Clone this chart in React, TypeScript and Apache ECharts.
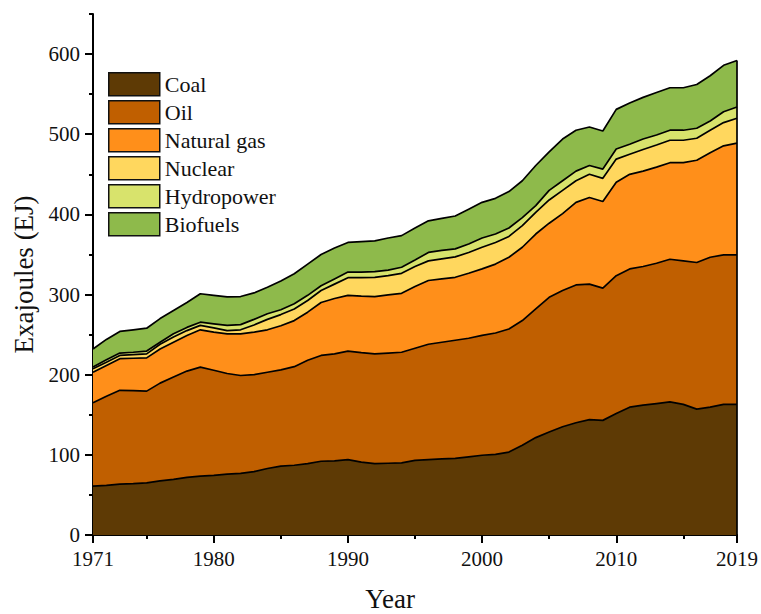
import React, { useEffect, useRef } from "react";
import * as echarts from "echarts";

const years = [
  "1971", "1972", "1973", "1974", "1975", "1976", "1977", "1978", "1979", "1980",
  "1981", "1982", "1983", "1984", "1985", "1986", "1987", "1988", "1989", "1990",
  "1991", "1992", "1993", "1994", "1995", "1996", "1997", "1998", "1999", "2000",
  "2001", "2002", "2003", "2004", "2005", "2006", "2007", "2008", "2009", "2010",
  "2011", "2012", "2013", "2014", "2015", "2016", "2017", "2018", "2019",
];

const coal = [
  61, 62, 63.5, 64, 65, 67.5, 69.5, 72, 73.5, 74.5,
  76, 77, 79, 83, 86, 87, 89, 92, 92.5, 94,
  91, 89, 89.5, 90, 93, 94, 95, 95.5, 97.5, 99.5,
  100.5, 103.5, 112, 121.5, 128.5, 135, 140, 144, 143, 151.5,
  159.5, 162, 164, 166, 163, 157, 159.5, 163, 163,
];
const oil = [
  104, 111, 117, 116, 114.5, 122, 127.5, 132.5, 136, 131,
  125.5, 122, 121, 120, 120, 123, 129, 132, 133.5, 135.5,
  136.5, 137, 137.5, 138, 140, 144, 145.5, 147.5, 148, 149.5,
  151.5, 153.5, 155.5, 160.5, 168, 170, 172, 169, 165, 172,
  172.5, 173, 175, 178, 179, 183, 187, 186.5, 186.5,
];
const naturalGas = [
  38, 38.5, 39.5, 40.5, 41.5, 42.5, 43.5, 44.5, 46.5, 47.5,
  49.5, 52, 53, 53, 55, 57.5, 60, 66, 69, 69.5,
  70.5, 71.5, 72.5, 73.5, 77, 79.5, 79, 78.5, 81, 83,
  86, 89.5, 91.5, 93.5, 92.5, 96, 103, 108, 108, 116.5,
  118, 119, 120, 120.5, 122.5, 127.5, 130.5, 136, 139.5,
];
const nuclear = [
  4.5, 4, 4, 4.5, 5, 6, 6.5, 6, 5.5, 5.5,
  4, 5, 9, 13, 14, 14.5, 14.5, 15, 18, 22,
  23, 24, 24, 25, 25, 24.5, 25, 25.5, 26, 27,
  27, 26, 27, 27, 29, 29, 27, 29, 29, 29,
  25, 27, 27.5, 28, 28, 27.5, 28, 29, 31,
];
const hydropower = [
  2, 3, 3, 3, 3.5, 2.5, 4, 4, 4, 5,
  6.5, 6.5, 7, 7, 6, 6.5, 6.5, 6, 6.5, 7,
  7, 7, 7, 7.5, 8, 10.5, 10.5, 10, 10.5, 11.5,
  10.5, 10.5, 10, 8.5, 12, 12, 12, 11, 11.5, 12.5,
  12.5, 13, 12.5, 12.5, 12.5, 12.5, 11.5, 13.5, 14,
];
const biofuels = [
  22.5, 25.5, 27, 28, 28.5, 29.5, 29, 31, 35.5, 35.5,
  35.5, 35, 33, 33, 36, 37.5, 39, 39, 38.5, 37,
  38, 38.5, 40, 39.5, 40, 39.5, 40, 41, 43.5, 44.5,
  44.5, 45.5, 46, 50, 48, 52, 51, 48, 47.5, 49.5,
  51.5, 52, 53, 53, 53, 54.5, 56.5, 58, 58,
];

const seriesNames = ["Coal", "Oil", "Natural gas", "Nuclear", "Hydropower", "Biofuels"];
const seriesValues = [coal, oil, naturalGas, nuclear, hydropower, biofuels];
const seriesColors = ["#5E3A05", "#C05F00", "#FF8F1A", "#FFD75E", "#D8E36C", "#8EBA4B"];

const yMajorTicks = [0, 100, 200, 300, 400, 500, 600];
const yMinorTicks = [50, 150, 250, 350, 450, 550, 650];
const xMajorTicks = ["1971", "1980", "1990", "2000", "2010", "2019"];
const xMinorTicks = ["1975", "1985", "1995", "2005", "2015"];

const FONT = "'Liberation Serif', 'Times New Roman', serif";

export default function App() {
  const ref = useRef<HTMLDivElement>(null);

  useEffect(() => {
    document.body.style.margin = "0";
    if (!ref.current) return;
    const chart = echarts.init(ref.current, null, { renderer: "svg" });

    const lastIdx = years.length - 1;
    const totalLast = seriesValues.reduce((s, arr) => s + arr[lastIdx], 0);

    const series: any[] = seriesNames.map((name, si) => ({
      name,
      type: "line",
      stack: "total",
      xAxisIndex: 0,
      yAxisIndex: 0,
      symbol: "none",
      showSymbol: false,
      smooth: false,
      data: seriesValues[si],
      itemStyle: { color: seriesColors[si] },
      lineStyle: { color: "#000", width: 1.7 },
      areaStyle: { color: seriesColors[si], opacity: 1 },
      z: 2,
    }));
    series[series.length - 1].markLine = {
      silent: true,
      symbol: ["none", "none"],
      label: { show: false },
      lineStyle: { color: "#000", width: 1.7, type: "solid" },
      data: [[{ coord: [years[lastIdx], 0] }, { coord: [years[lastIdx], totalLast] }]],
    };

    const majorX = (_i: number, v: string) => xMajorTicks.indexOf(String(v)) >= 0;
    const minorX = (_i: number, v: string) => xMinorTicks.indexOf(String(v)) >= 0;

    const option: any = {
      animation: false,
      backgroundColor: "#fff",
      textStyle: { fontFamily: FONT },
      grid: {
        left: 93,
        right: 24,
        top: 14,
        bottom: 79,
        containLabel: false,
        outerBoundsMode: "none",
      },
      legend: {
        orient: "vertical",
        left: 108,
        top: 72,
        padding: 0,
        itemWidth: 51,
        itemHeight: 23,
        itemGap: 3.5,
        icon: "rect",
        selectedMode: false,
        textStyle: { fontFamily: FONT, fontSize: 22, color: "#111" },
        data: seriesNames.map((n, i) => ({
          name: n,
          icon: "rect",
          itemStyle: { color: seriesColors[i], borderColor: "#111", borderWidth: 1.5 },
        })),
      },
      xAxis: [
        {
          type: "category",
          data: years,
          boundaryGap: false,
          name: "Year",
          nameLocation: "middle",
          nameGap: 50,
          nameTextStyle: { fontFamily: FONT, fontSize: 27, color: "#111", padding: [0, 50, 0, 0] },
          axisLine: { show: true, lineStyle: { color: "#000", width: 2 } },
          axisTick: { show: true, length: 8, lineStyle: { color: "#000", width: 2 }, interval: majorX },
          axisLabel: { fontFamily: FONT, fontSize: 21, color: "#111", margin: 13, interval: majorX },
          splitLine: { show: false },
        },
        {
          type: "category",
          data: years,
          boundaryGap: false,
          position: "bottom",
          axisLine: { show: false },
          axisTick: { show: true, length: 4, lineStyle: { color: "#000", width: 2 }, interval: minorX },
          axisLabel: { show: false },
          splitLine: { show: false },
        },
      ],
      yAxis: [
        {
          type: "value",
          min: 0,
          max: 650,
          name: "Exajoules (EJ)",
          nameLocation: "middle",
          nameGap: 46,
          nameRotate: 90,
          nameTextStyle: { fontFamily: FONT, fontSize: 27, color: "#111" },
          axisLine: { show: true, lineStyle: { color: "#000", width: 2 } },
          axisTick: { show: true, length: 8, lineStyle: { color: "#000", width: 2 }, customValues: yMajorTicks },
          axisLabel: { fontFamily: FONT, fontSize: 21, color: "#111", margin: 13, customValues: yMajorTicks },
          splitLine: { show: false },
        },
        {
          type: "value",
          min: 0,
          max: 650,
          position: "left",
          axisLine: { show: false },
          axisTick: { show: true, length: 4, lineStyle: { color: "#000", width: 2 }, customValues: yMinorTicks },
          axisLabel: { show: false },
          splitLine: { show: false },
        },
      ],
      series,
    };

    chart.setOption(option);
    return () => chart.dispose();
  }, []);

  return <div ref={ref} style={{ width: 761, height: 614 }} />;
}
